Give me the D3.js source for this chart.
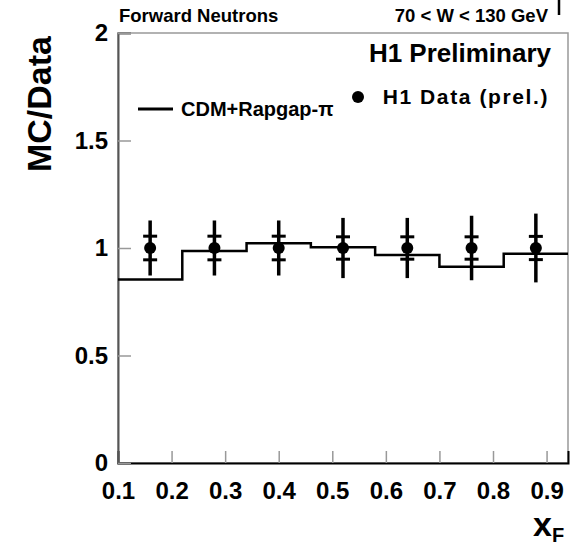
<!DOCTYPE html>
<html>
<head>
<meta charset="utf-8">
<script src="https://cdn.jsdelivr.net/npm/d3@7"></script>
<style>
  body { margin: 0; background: #fff; }
  text { font-family: "Liberation Sans", Arial, sans-serif; font-weight: bold; fill: #000; }
</style>
</head>
<body>
<div id="chart"></div>
<script>
// Chart size (matches the window)
const svgWidth = 570;
const svgHeight = 546;

const margin = { top: 33, right: 2, bottom: 83, left: 118 };
const chartWidth = svgWidth - margin.left - margin.right;
const chartHeight = svgHeight - margin.top - margin.bottom;

// Data points (MC/Data ratio)
const pointX = [0.16, 0.28, 0.40, 0.52, 0.64, 0.76, 0.88];
const pointY = [1.0, 1.0, 1.0, 1.0, 1.0, 1.0, 1.0];
const statErr = [0.055, 0.055, 0.055, 0.052, 0.052, 0.052, 0.054];
const totErr = [0.128, 0.128, 0.128, 0.14, 0.14, 0.15, 0.16];

// CDM+Rapgap-pi histogram
const binEdges = [0.1, 0.22, 0.34, 0.46, 0.58, 0.70, 0.82, 0.94];
const binValues = [0.854, 0.986, 1.022, 1.003, 0.967, 0.913, 0.973];

const xTicks = [0.1, 0.2, 0.3, 0.4, 0.5, 0.6, 0.7, 0.8, 0.9];
const yTicks = [0, 0.5, 1, 1.5, 2];

const svg = d3.select("#chart")
  .append("svg")
  .attr("width", svgWidth)
  .attr("height", svgHeight);

const chartGroup = svg.append("g")
  .attr("transform", `translate(${margin.left}, ${margin.top})`);

const x = d3.scaleLinear()
  .domain([0.1, 0.94])
  .range([0, chartWidth]);

const y = d3.scaleLinear()
  .domain([0, 2])
  .range([chartHeight, 0]);

// frame: top and right light grey
chartGroup.append("rect")
  .attr("x", 0)
  .attr("y", 0)
  .attr("width", chartWidth)
  .attr("height", chartHeight)
  .attr("fill", "none")
  .attr("stroke", "#999")
  .attr("stroke-width", 1.5);

// x axis
const xAxis = d3.axisBottom(x)
  .tickValues(xTicks)
  .tickSize(-12)
  .tickFormat(d3.format(".1f"));

const xg = chartGroup.append("g")
  .attr("transform", `translate(0, ${chartHeight})`)
  .call(xAxis);
xg.select(".domain").attr("stroke", "#000").attr("stroke-width", 2);
xg.selectAll(".tick line").attr("stroke", "#999").attr("stroke-width", 1.5);
xg.selectAll(".tick text")
  .attr("y", 19)
  .attr("dy", "0.71em")
  .style("font-size", "24px");

// y axis
const yAxis = d3.axisLeft(y)
  .tickValues(yTicks)
  .tickSize(-13)
  .tickFormat(d => d3.format("")(d));

const yg = chartGroup.append("g")
  .call(yAxis);
yg.select(".domain").attr("stroke", "#555").attr("stroke-width", 2);
yg.selectAll(".tick line").attr("stroke", "#999").attr("stroke-width", 1.5);
yg.selectAll(".tick text")
  .attr("x", -10)
  .style("font-size", "24px");

// histogram as a step line
const steps = [];
binValues.forEach((v, i) => {
  steps.push([binEdges[i], v]);
  steps.push([binEdges[i + 1], v]);
});

chartGroup.append("path")
  .datum(steps)
  .attr("fill", "none")
  .attr("stroke", "#000")
  .attr("stroke-width", 2.5)
  .attr("d", d3.line().x(d => x(d[0])).y(d => y(d[1])));

// error bars
const points = pointX.map((px, i) => ({ x: px, y: pointY[i], s: statErr[i], t: totErr[i] }));

const pg = chartGroup.selectAll(".pt")
  .data(points)
  .enter()
  .append("g")
  .attr("class", "pt");

pg.append("line")
  .attr("x1", d => x(d.x))
  .attr("x2", d => x(d.x))
  .attr("y1", d => y(d.y + d.t))
  .attr("y2", d => y(d.y - d.t))
  .attr("stroke", "#000")
  .attr("stroke-width", 3.5);

[-1, 1].forEach(sign => {
  pg.append("line")
    .attr("x1", d => x(d.x) - 7)
    .attr("x2", d => x(d.x) + 7)
    .attr("y1", d => y(d.y + sign * d.s))
    .attr("y2", d => y(d.y + sign * d.s))
    .attr("stroke", "#000")
    .attr("stroke-width", 3);
});

pg.append("circle")
  .attr("cx", d => x(d.x))
  .attr("cy", d => y(d.y))
  .attr("r", 6)
  .attr("fill", "#000");

// texts
svg.append("text")
  .attr("x", 119)
  .attr("y", 22)
  .style("font-size", "18.5px")
  .text("Forward Neutrons");

svg.append("text")
  .attr("x", 548)
  .attr("y", 22)
  .attr("text-anchor", "end")
  .style("font-size", "18.5px")
  .text("70 < W < 130 GeV");

// cut-off character at top right
svg.append("line")
  .attr("x1", 559).attr("x2", 559)
  .attr("y1", 0).attr("y2", 15)
  .attr("stroke", "#000")
  .attr("stroke-width", 2.5);

svg.append("text")
  .attr("x", 551)
  .attr("y", 62)
  .attr("text-anchor", "end")
  .style("font-size", "26px")
  .text("H1 Preliminary");

// legend
svg.append("circle")
  .attr("cx", 358)
  .attr("cy", 97)
  .attr("r", 6)
  .attr("fill", "#000");

svg.append("text")
  .attr("x", 549)
  .attr("y", 104)
  .attr("text-anchor", "end")
  .style("font-size", "21px")
  .style("letter-spacing", "1.6px")
  .text("H1 Data (prel.)");

svg.append("line")
  .attr("x1", 138).attr("x2", 173)
  .attr("y1", 109).attr("y2", 109)
  .attr("stroke", "#000")
  .attr("stroke-width", 3);

svg.append("text")
  .attr("x", 181)
  .attr("y", 116)
  .style("font-size", "20px")
  .text("CDM+Rapgap-π");

// axis titles
svg.append("text")
  .attr("transform", "translate(51, 104) rotate(-90)")
  .attr("text-anchor", "middle")
  .style("font-size", "34px")
  .text("MC/Data");

const xt = svg.append("text")
  .attr("x", 533)
  .attr("y", 536)
  .style("font-size", "34px")
  .text("x");
xt.append("tspan")
  .attr("dy", 6)
  .style("font-size", "20px")
  .text("F");
</script>
</body>
</html>
